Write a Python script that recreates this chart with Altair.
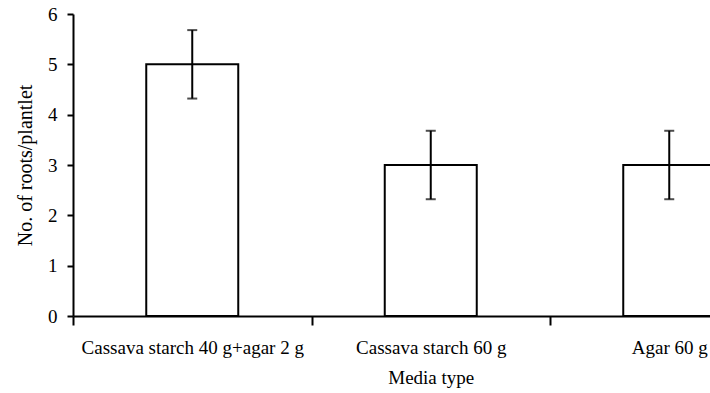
import altair as alt
import pandas as pd

categories = ["Cassava starch 40 g+agar 2 g", "Cassava starch 60 g", "Agar 60 g"]
means = [5.0, 3.0, 3.0]
errors = [0.68, 0.68, 0.68]

df = pd.DataFrame({
    "media": categories,
    "mean": means,
    "lo": [m - e for m, e in zip(means, errors)],
    "hi": [m + e for m, e in zip(means, errors)],
})

FONT = "Liberation Serif"
FS = 19

x_enc = alt.X(
    "media:N",
    sort=categories,
    title="Media type",
    scale=alt.Scale(range=[0, 715.5], paddingInner=0, paddingOuter=0),
    axis=alt.Axis(
        tickBand="extent", labelAngle=0, tickSize=9, tickWidth=2, tickColor="black",
        domainColor="black", domainWidth=2, labelPadding=13, labelFontSize=FS,
        labelFont=FONT, labelColor="black", titleFont=FONT, titleFontSize=FS,
        titleFontWeight="normal", titleColor="black", titlePadding=11,
        grid=False, labelOverlap=False, labelLimit=500,
    ),
)

y_scale = alt.Scale(domain=[0, 6], nice=False)
y_axis = alt.Axis(
    values=[0, 1, 2, 3, 4, 5, 6], tickSize=6, tickWidth=2, tickColor="black",
    domainColor="black", domainWidth=2, labelPadding=10, labelFontSize=FS,
    labelFont=FONT, labelColor="black", titleFont=FONT, titleFontSize=20,
    titleFontWeight="normal", titleColor="black", titlePadding=12, grid=False,
)

bars = alt.Chart(df).mark_bar(size=92, fill="white", stroke="black", strokeWidth=2, clip=True).encode(
    x=x_enc,
    y=alt.Y("mean:Q", scale=y_scale, axis=y_axis, title="No. of roots/plantlet"),
)

rules = alt.Chart(df).mark_rule(color="black", strokeWidth=2, clip=True).encode(
    x=alt.X("media:N", sort=categories),
    y=alt.Y("lo:Q"),
    y2="hi:Q",
)

caps_hi = alt.Chart(df).mark_tick(color="black", thickness=2, size=10, orient="horizontal", clip=True).encode(
    x=alt.X("media:N", sort=categories),
    y=alt.Y("hi:Q"),
)
caps_lo = alt.Chart(df).mark_tick(color="black", thickness=2, size=10, orient="horizontal", clip=True).encode(
    x=alt.X("media:N", sort=categories),
    y=alt.Y("lo:Q"),
)

chart = alt.layer(bars, rules, caps_hi, caps_lo).properties(
    width=637, height=302,
    autosize=alt.AutoSizeParams(type="none"),
    padding={"left": 73, "top": 14, "right": 0, "bottom": 77},
    background="white",
).configure_view(stroke=None)

chart.save("out.html", embed_options={"renderer": "svg", "actions": False})
